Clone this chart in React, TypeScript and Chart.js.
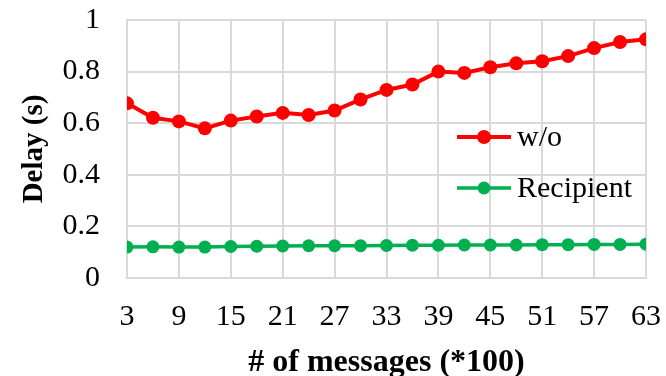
import React, { useEffect, useRef } from "react";
import { Chart, registerables } from "chart.js";

Chart.register(...registerables);

// Number of messages (in hundreds)
const messageCounts = [3, 6, 9, 12, 15, 18, 21, 24, 27, 30, 33, 36, 39, 42, 45, 48, 51, 54, 57, 60, 63];

// Delay in seconds without recipient-side handling
const woDelay = [
  0.677, 0.621, 0.607, 0.58, 0.61, 0.626, 0.64, 0.632, 0.649, 0.692, 0.729,
  0.75, 0.8, 0.795, 0.817, 0.832, 0.84, 0.86, 0.891, 0.915, 0.925,
];

// Delay in seconds with recipient-side handling
const recipientDelay = [
  0.12, 0.121, 0.12, 0.12, 0.122, 0.123, 0.124, 0.125, 0.125, 0.125, 0.126,
  0.127, 0.127, 0.128, 0.128, 0.128, 0.129, 0.129, 0.13, 0.13, 0.131,
];

const seriesNames = ["w/o", "Recipient"];
const seriesColors = ["#FF0000", "#00B050"];
const seriesLineWidths = [4, 3.5];
const seriesPointRadii = [7, 6.5];

const xTitle = "# of messages (*100)";
const yTitle = "Delay (s)";

const FONT = '"Liberation Serif", "Times New Roman", serif';
const GRID = "#D9D9D9";

// Legend drawn inside the plot area, to the right
const innerLegend = {
  id: "innerLegend",
  afterDraw(chart: any) {
    const { ctx, chartArea } = chart;
    const x0 = chartArea.right - 189;
    const rows = [chartArea.top + 117, chartArea.top + 168];
    ctx.save();
    chart.data.datasets.forEach((ds: any, i: number) => {
      const y = rows[i];
      ctx.strokeStyle = ds.borderColor;
      ctx.lineWidth = ds.borderWidth;
      ctx.beginPath();
      ctx.moveTo(x0, y);
      ctx.lineTo(x0 + 54, y);
      ctx.stroke();
      ctx.fillStyle = ds.pointBackgroundColor;
      ctx.beginPath();
      ctx.arc(x0 + 27, y, ds.pointRadius, 0, Math.PI * 2);
      ctx.fill();
      ctx.fillStyle = "#000";
      ctx.font = `30px ${FONT}`;
      ctx.textAlign = "left";
      ctx.textBaseline = "middle";
      ctx.fillText(ds.label, x0 + 60, y + 1);
    });
    ctx.restore();
  },
};

// Keep tick labels from shrinking the plot area
const noLabelPadding = (scale: any) => {
  scale.paddingTop = 0;
  scale.paddingBottom = 0;
  scale.paddingLeft = 0;
  scale.paddingRight = 0;
};

export default function App() {
  const canvasRef = useRef<HTMLCanvasElement | null>(null);

  useEffect(() => {
    const canvas = canvasRef.current;
    if (!canvas) return;
    const makeSeries = (values: number[], i: number) => ({
      label: seriesNames[i],
      data: messageCounts.map((x, k) => ({ x, y: values[k] })),
      borderColor: seriesColors[i],
      backgroundColor: seriesColors[i],
      pointBackgroundColor: seriesColors[i],
      pointBorderWidth: 0,
      pointRadius: seriesPointRadii[i],
      borderWidth: seriesLineWidths[i],
      tension: 0,
    });
    const chart = new Chart(canvas, {
      type: "line",
      data: {
        datasets: [makeSeries(woDelay, 0), makeSeries(recipientDelay, 1)],
      },
      options: {
        animation: false,
        responsive: false,
        maintainAspectRatio: false,
        layout: { padding: { top: 20, right: 20, left: 0, bottom: 0 } },
        plugins: {
          legend: { display: false },
          tooltip: { enabled: false },
        },
        scales: {
          x: {
            type: "linear",
            min: 3,
            max: 63,
            grid: { color: GRID, lineWidth: 2, drawTicks: false },
            border: { color: GRID, width: 2 },
            ticks: {
              stepSize: 6,
              color: "#000",
              font: { family: FONT, size: 30 },
              padding: 21,
              maxRotation: 0,
            },
            title: {
              display: true,
              text: xTitle,
              color: "#000",
              font: { family: FONT, size: 32, weight: "bold", lineHeight: 0.85 },
              padding: { top: 0, bottom: 0 },
            },
            afterFit(scale: any) {
              scale.height = 98;
              noLabelPadding(scale);
            },
          },
          y: {
            min: 0,
            max: 1,
            grid: { color: GRID, lineWidth: 2, drawTicks: false },
            border: { color: GRID, width: 2 },
            ticks: {
              stepSize: 0.2,
              color: "#000",
              font: { family: FONT, size: 30 },
              padding: 27,
              callback: (v: any) => String(Math.round(Number(v) * 10) / 10),
            },
            title: {
              display: true,
              text: yTitle,
              color: "#000",
              font: { family: FONT, size: 29, weight: "bold", lineHeight: 1 },
              padding: { top: 20, bottom: 0 },
            },
            afterFit(scale: any) {
              scale.width = 127;
              noLabelPadding(scale);
            },
          },
        },
      },
      plugins: [innerLegend],
    } as any);
    return () => chart.destroy();
  }, []);

  return (
    <div style={{ position: "fixed", left: 0, top: 0, width: 666, height: 376, background: "#fff" }}>
      <canvas ref={canvasRef} width={666} height={376} style={{ display: "block" }} />
    </div>
  );
}
